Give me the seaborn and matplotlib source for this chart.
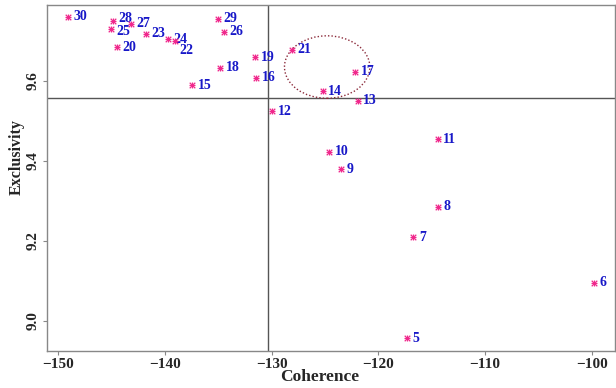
import matplotlib
matplotlib.use('Agg')
import matplotlib.pyplot as plt
import seaborn as sns
import pandas as pd
from matplotlib.patches import Ellipse

# Datos: número de tópicos con su coherencia y exclusividad
topics = [5, 6, 7, 8, 9, 10, 11, 12, 13, 14, 15, 16, 17, 18, 19, 20,
          21, 22, 23, 24, 25, 26, 27, 28, 29, 30]
coherence = [-117.29, -99.77, -116.73, -114.44, -123.48, -124.63, -114.44,
             -129.97, -121.94, -125.22, -137.47, -131.47, -122.16, -134.85,
             -131.56, -144.50, -128.13, -139.06, -141.78, -139.72, -145.06,
             -134.47, -143.19, -144.87, -135.03, -149.09]
exclusivity = [8.957, 9.096, 9.209, 9.285, 9.379, 9.422, 9.454, 9.524,
               9.550, 9.573, 9.589, 9.607, 9.622, 9.632, 9.659, 9.684,
               9.677, 9.699, 9.717, 9.704, 9.729, 9.722, 9.742, 9.749,
               9.754, 9.759]

# Líneas de referencia y elipse
ref_x = -130.35
ref_y = 9.556
ell_center = (-124.8, 9.634)
ell_w, ell_h = 8.0, 0.156

df = pd.DataFrame({'topic': topics, 'coherence': coherence,
                   'exclusivity': exclusivity})

sns.set_style('white')
plt.rcParams['font.family'] = ['Liberation Serif', 'DejaVu Serif']
plt.rcParams['font.weight'] = 'bold'

fig = plt.figure(figsize=(6.16, 3.88), dpi=100)
ax = fig.add_axes([0.0758, 0.0954, 0.9225, 0.8918])

# Asterisco estilo R (pch=8): "+" y "x" superpuestos
for m in ['+', 'x']:
    sns.scatterplot(data=df, x='coherence', y='exclusivity', marker=m,
                    color='#F0288C', s=16, linewidth=0.9, ax=ax, zorder=4)

# Desplazamientos especiales de etiquetas
offsets = {22: (3, -7), 25: (4, -2), 28: (4, 1.5)}

for t, cx, ey in zip(topics, coherence, exclusivity):
    ax.annotate(str(t), (cx, ey), xytext=offsets.get(t, (4, 0)),
                textcoords='offset points', ha='left', va='center',
                color='#1818C8', fontsize=10, fontweight='bold')

ax.axhline(ref_y, color='#555555', lw=1.0, zorder=1)
ax.axvline(ref_x, color='#555555', lw=1.0, zorder=1)

ax.add_patch(Ellipse(ell_center, ell_w, ell_h, fill=False,
                     edgecolor='#8B2A3A', lw=1.0, linestyle=(0, (1, 1.5))))

ax.set_xlim(-151.09, -97.82)
ax.set_ylim(8.925, 9.789)
ax.set_xticks([-150, -140, -130, -120, -110, -100])
ax.set_yticks([9.0, 9.2, 9.4, 9.6])
ax.set_yticklabels(['9.0', '9.2', '9.4', '9.6'], rotation=90, va='center')

for sp in ax.spines.values():
    sp.set_color('#888888')
    sp.set_linewidth(1.0)

ax.tick_params(axis='both', which='both', length=3, width=0.8,
               color='#888888', labelsize=11, pad=2,
               left=True, bottom=True)

ax.set_xlabel('Coherence', fontsize=12.5, fontweight='bold')
ax.set_ylabel('Exclusivity', fontsize=11.5, fontweight='bold')
ax.xaxis.set_label_coords(0.481, -0.075)
ax.yaxis.set_label_coords(-0.052, 0.561)
ax.xaxis.label.set_va('center')
ax.yaxis.label.set_va('center')

fig.savefig('out.png', dpi=100)
